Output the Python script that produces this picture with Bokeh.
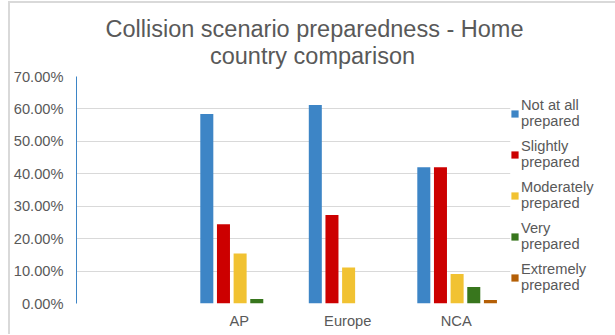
from bokeh.plotting import figure
from bokeh.models import (ColumnDataSource, FactorRange, Range1d, FixedTicker,
                          NumeralTickFormatter, Legend, LegendItem)
from bokeh.transform import dodge
from bokeh.embed import file_html
from bokeh.resources import INLINE

# Home-country groups (the first slot is an unlabelled, empty group)
categories = [" ", "AP", "Europe", "NCA"]

# Share of respondents per preparedness level, in percent
not_at_all = [0, 58.4, 61.2, 42.0]
slightly = [0, 24.4, 27.3, 42.0]
moderately = [0, 15.4, 11.1, 9.1]
very = [0, 1.4, 0, 5.1]
extremely = [0, 0, 0, 1.1]

series_names = ["Not at all\nprepared", "Slightly\nprepared", "Moderately\nprepared",
                "Very\nprepared", "Extremely\nprepared"]
series_values = [not_at_all, slightly, moderately, very, extremely]
series_colors = ["#3d85c6", "#cc0000", "#f1c232", "#38761d", "#b45f06"]

y_ticks = [0.0, 0.1, 0.2, 0.3, 0.4, 0.5, 0.6, 0.7]

title_lines = ["Collision scenario preparedness - Home", "country comparison"]

FONT = "Liberation Sans"
TEXT = "#595959"
LABEL_SIZE = "14.67px"

source = ColumnDataSource(data=dict(
    cat=categories,
    **{f"s{i}": [v / 100 for v in vals] for i, vals in enumerate(series_values)},
))

p = figure(
    frame_width=434, frame_height=227,
    x_range=FactorRange(*categories, range_padding=0),
    y_range=Range1d(0, 0.7),
    output_backend="svg", toolbar_location=None,
    min_border_left=66, min_border_right=105,
    min_border_top=73, min_border_bottom=31,
    background_fill_color="white", border_fill_color="white",
)
p.styles = {"border-top": "2px solid #d9d9d9", "border-left": "2px solid #d9d9d9",
            "margin-left": "8px", "margin-top": "1px"}
p.outline_line_color = None

# Two-line title; the second line is indented with no-break spaces so it sits centred
p.title.text = title_lines[0] + "\n" + "\u00a0" * 16 + title_lines[1]
p.title.align = "left"
p.title.offset = 29
p.title.text_font = FONT
p.title.text_font_size = "23.5px"
p.title.text_font_style = "normal"
p.title.text_color = TEXT
p.title.text_line_height = 1.05
p.title.standoff = 15

step = 0.1535
width = 0.12
renderers = []
for i, color in enumerate(series_colors):
    r = p.vbar(x=dodge("cat", (i - 2) * step + 0.008, range=p.x_range),
               top=f"s{i}", width=width, source=source,
               fill_color=color, line_color=None)
    renderers.append(r)

legend = Legend(
    items=[LegendItem(label=name, renderers=[r]) for name, r in zip(series_names, renderers)],
    location=(0, 10),
    glyph_width=9, glyph_height=9,
    label_standoff=2,
    label_text_font=FONT, label_text_font_size=LABEL_SIZE, label_text_color=TEXT,
    label_text_line_height=1.1,
    spacing=9, padding=2, margin=0,
    border_line_color=None, background_fill_alpha=0,
)
p.add_layout(legend, "right")

ya = p.yaxis[0]
ya.ticker = FixedTicker(ticks=y_ticks)
ya.formatter = NumeralTickFormatter(format="0.00%")
ya.axis_line_color = "#3d85c6"
ya.major_tick_line_color = None
ya.minor_tick_line_color = None
ya.major_tick_in = 0
ya.major_tick_out = 0
ya.major_label_standoff = 13
ya.major_label_text_font = FONT
ya.major_label_text_font_size = LABEL_SIZE
ya.major_label_text_color = TEXT

xa = p.xaxis[0]
xa.axis_line_color = None
xa.major_tick_line_color = None
xa.minor_tick_line_color = None
xa.major_tick_in = 0
xa.major_tick_out = 0
xa.major_label_standoff = 9
xa.major_label_text_font = FONT
xa.major_label_text_font_size = LABEL_SIZE
xa.major_label_text_color = TEXT

p.xgrid.grid_line_color = None
p.ygrid.ticker = FixedTicker(ticks=y_ticks)
p.ygrid.grid_line_color = "#d9d9d9"
p.ygrid.grid_line_width = 1

open("out.html", "w").write(file_html(p, INLINE))
